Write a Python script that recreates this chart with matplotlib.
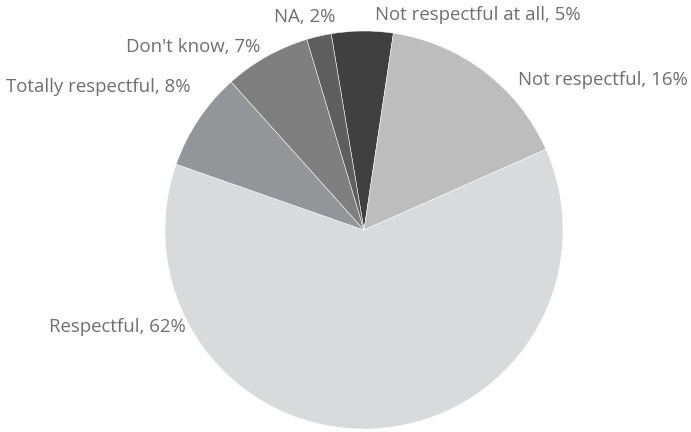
import matplotlib.pyplot as plt

labels = ["Not respectful at all", "Not respectful", "Respectful",
          "Totally respectful", "Don't know", "NA"]
shares = [5, 16, 62, 8, 7, 2]
colors = ["#404040", "#bdbdbd", "#d9dadc", "#939598", "#7f7f80", "#5f5f60"]

# where each label sits, in figure pixels (x, y from top) and its anchor
label_pos = [(375, 15, "left"), (518, 80, "left"), (186, 327, "right"),
             (191, 87, "right"), (260, 47, "right"), (335, 17, "right")]

W, H = 691, 432
fig = plt.figure(figsize=(W / 100, H / 100), dpi=100)
cx, cy, r = 364, 230, 199
ax = fig.add_axes([(cx - r) / W, (H - cy - r) / H, 2 * r / W, 2 * r / H])

ax.pie(shares, colors=colors, startangle=99.5, counterclock=False,
       wedgeprops=dict(edgecolor="white", linewidth=0.35))
ax.set_xlim(-1, 1)
ax.set_ylim(-1, 1)
ax.axis("off")

for name, val, (x, y, ha) in zip(labels, shares, label_pos):
    fig.text(x / W, 1 - y / H, f"{name}, {val}%", ha=ha, va="center",
             fontsize=13.4, color="#6e6e6e", family="Open Sans")

fig.savefig("out.png", dpi=100)
